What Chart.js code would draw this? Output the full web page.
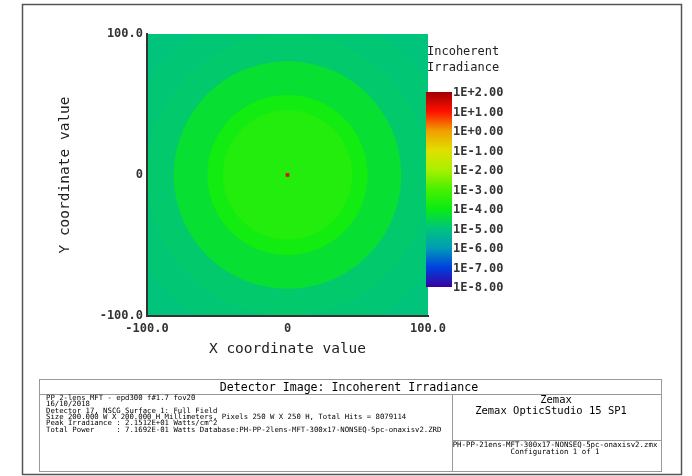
<!DOCTYPE html>
<html>
<head>
<meta charset="utf-8">
<script src="https://cdn.jsdelivr.net/npm/chart.js@4.4.1/dist/chart.umd.min.js"></script>
<style>
  html, body { margin: 0; padding: 0; background: #fff; }
  #wrap { width: 692px; height: 476px; position: relative; }
</style>
</head>
<body>
<div id="wrap"><canvas id="detChart"></canvas></div>
<script>
// detector extent (mm) and tick values
const xTicks = [-100, 0, 100];
const yTicks = [-100, 0, 100];

// radial bands of the detector image: outer radius (mm) and log10 irradiance inside it
const ringRadius = [142, 120, 100, 81, 57, 46];
const ringLevel = [-5.0, -4.92, -4.85, -4.3, -3.85, -3.6];

// hot spot at the centre
const hotX = [0];
const hotY = [0];
const hotLevel = [1.3];

// colour bar levels (log10 W/cm^2)
const cbLevels = [2, 1, 0, -1, -2, -3, -4, -5, -6, -7, -8];

// false colour map
const cmapLevels = [-8, -7, -6, -5, -4, -3, -2, -1, 0, 1, 2];
const cmapColors = [
  [60, 0, 160], [0, 64, 224], [0, 156, 180], [0, 196, 124], [10, 235, 20],
  [72, 240, 0], [168, 240, 0], [224, 224, 0], [240, 160, 0], [255, 16, 0], [160, 0, 0]
];

const infoLines = [
  "PP 2-lens MFT - epd300 f#1.7 fov20",
  "16/10/2018",
  "Detector 17, NSCG Surface 1: Full Field",
  "Size 200.000 W X 200.000 H Millimeters, Pixels 250 W X 250 H, Total Hits = 8079114",
  "Peak Irradiance : 2.1512E+01 Watts/cm^2",
  "Total Power     : 7.1692E-01 Watts Database:PH-PP-2lens-MFT-300x17-NONSEQ-5pc-onaxisv2.ZRD"
];

const MONO = "'DejaVu Sans Mono', 'Liberation Mono', monospace";

function levelColor(v) {
  if (v <= cmapLevels[0]) return "rgb(" + cmapColors[0].join(",") + ")";
  for (let i = 1; i < cmapLevels.length; i++) {
    if (v <= cmapLevels[i]) {
      const t = (v - cmapLevels[i - 1]) / (cmapLevels[i] - cmapLevels[i - 1]);
      const a = cmapColors[i - 1], b = cmapColors[i];
      const c = a.map((ch, k) => Math.round(ch + (b[k] - ch) * t));
      return "rgb(" + c.join(",") + ")";
    }
  }
  return "rgb(" + cmapColors[cmapColors.length - 1].join(",") + ")";
}

function fmtLevel(v) {
  return "1E" + (v >= 0 ? "+" : "-") + Math.abs(v).toFixed(2);
}

/* rings drawn under everything, mapped through the chart scales */
const ringPlugin = {
  id: "rings",
  beforeDraw(chart) {
    const { ctx, chartArea: a, scales: { x, y } } = chart;
    const cx = x.getPixelForValue(0);
    const cy = y.getPixelForValue(0);
    ctx.save();
    ctx.beginPath();
    ctx.rect(a.left, a.top, a.right - a.left, a.bottom - a.top);
    ctx.clip();
    ringRadius.forEach((r, i) => {
      const rp = x.getPixelForValue(r) - cx;
      ctx.fillStyle = levelColor(ringLevel[i]);
      ctx.beginPath();
      ctx.arc(cx, cy, rp, 0, Math.PI * 2);
      ctx.fill();
    });
    ctx.restore();
  },
  afterDraw(chart) {
    const ctx = chart.ctx;
    ctx.save();

    // outer frame
    ctx.strokeStyle = "#555";
    ctx.lineWidth = 1.5;
    ctx.strokeRect(22.5, 4.5, 659, 470);

    // colour bar
    const cbTop = 92, cbBot = 287, cbL = 426, cbR = 452;
    const g = ctx.createLinearGradient(0, cbTop, 0, cbBot);
    cmapLevels.forEach((lv, i) => {
      g.addColorStop((2 - lv) / 10, "rgb(" + cmapColors[i].join(",") + ")");
    });
    ctx.fillStyle = g;
    ctx.fillRect(cbL, cbTop, cbR - cbL, cbBot - cbTop);

    ctx.fillStyle = "#333";
    ctx.font = "bold 12px " + MONO;
    ctx.textBaseline = "middle";
    ctx.textAlign = "left";
    cbLevels.forEach((lv) => {
      const yy = cbTop + (2 - lv) / 10 * (cbBot - cbTop);
      ctx.fillText(fmtLevel(lv), 453, yy + 1);
    });
    ctx.fillStyle = "#222";
    ctx.font = "12px " + MONO;
    ctx.fillText("Incoherent", 427, 51.5);
    ctx.fillText("Irradiance", 427, 67.5);

    // info box
    ctx.strokeStyle = "#999";
    ctx.lineWidth = 1;
    ctx.strokeRect(39.5, 379.5, 622, 92);
    ctx.beginPath();
    ctx.moveTo(39.5, 394.5); ctx.lineTo(661.5, 394.5);
    ctx.moveTo(452.5, 394.5); ctx.lineTo(452.5, 471.5);
    ctx.moveTo(452.5, 440.5); ctx.lineTo(661.5, 440.5);
    ctx.stroke();

    ctx.fillStyle = "#000";
    ctx.textAlign = "center";
    ctx.font = "11.6px " + MONO;
    ctx.fillText("Detector Image: Incoherent Irradiance", 349, 387.5);

    ctx.font = "10.5px " + MONO;
    ctx.fillText("Zemax", 556, 400.5);
    ctx.fillText("Zemax OpticStudio 15 SP1", 551, 411.5);

    ctx.font = "7.4px " + MONO;
    ctx.fillText("PH-PP-21ens-MFT-300x17-NONSEQ-5pc-onaxisv2.zmx", 555, 445.5);
    ctx.fillText("Configuration 1 of 1", 555, 452);

    ctx.textAlign = "left";
    ctx.font = "7.3px " + MONO;
    infoLines.forEach((s, i) => {
      ctx.fillText(s, 46, 398 + i * 6.4);
    });

    ctx.restore();
  }
};

new Chart(document.getElementById("detChart"), {
  type: "scatter",
  data: {
    datasets: [
      {
        label: "Hot spot",
        data: hotX.map((v, i) => ({ x: v, y: hotY[i] })),
        pointStyle: "rect",
        pointRadius: 2.6,
        pointBorderWidth: 0,
        backgroundColor: hotLevel.map(levelColor),
        borderColor: hotLevel.map(levelColor),
      },
    ],
  },
  options: {
    responsive: true,
    maintainAspectRatio: false,
    animation: false,
    events: [],
    layout: { padding: { left: 50, top: 34, right: 264, bottom: 115 } },
    scales: {
      x: {
        type: "linear",
        min: -100,
        max: 100,
        afterBuildTicks: (s) => { s.ticks = xTicks.map((v) => ({ value: v })); },
        afterFit: (s) => { s.height = 45; },
        grid: { display: false, drawTicks: false },
        border: { display: true, color: "#333", width: 2 },
        ticks: {
          padding: 6,
          color: "#333",
          font: { family: MONO, size: 12, weight: "bold" },
          maxRotation: 0,
          callback: (v) => (v === 0 ? "0" : v.toFixed(1)),
        },
        title: {
          display: true,
          text: "X coordinate value",
          color: "#222",
          font: { family: MONO, size: 14.5 },
          padding: { top: 0, bottom: 3 },
        },
      },
      y: {
        type: "linear",
        min: -100,
        max: 100,
        afterBuildTicks: (s) => { s.ticks = yTicks.map((v) => ({ value: v })); },
        afterFit: (s) => { s.width = 97; },
        grid: { display: false, drawTicks: false },
        border: { display: true, color: "#333", width: 2 },
        ticks: {
          padding: 4,
          color: "#333",
          font: { family: MONO, size: 12, weight: "bold" },
          callback: (v) => (v === 0 ? "0" : v.toFixed(1)),
        },
        title: {
          display: true,
          text: "Y coordinate value",
          color: "#222",
          font: { family: MONO, size: 14.5 },
          padding: { top: 7, bottom: 0 },
        },
      },
    },
    plugins: {
      legend: { display: false },
      tooltip: { enabled: false },
    },
  },
  plugins: [ringPlugin],
});
</script>
</body>
</html>
